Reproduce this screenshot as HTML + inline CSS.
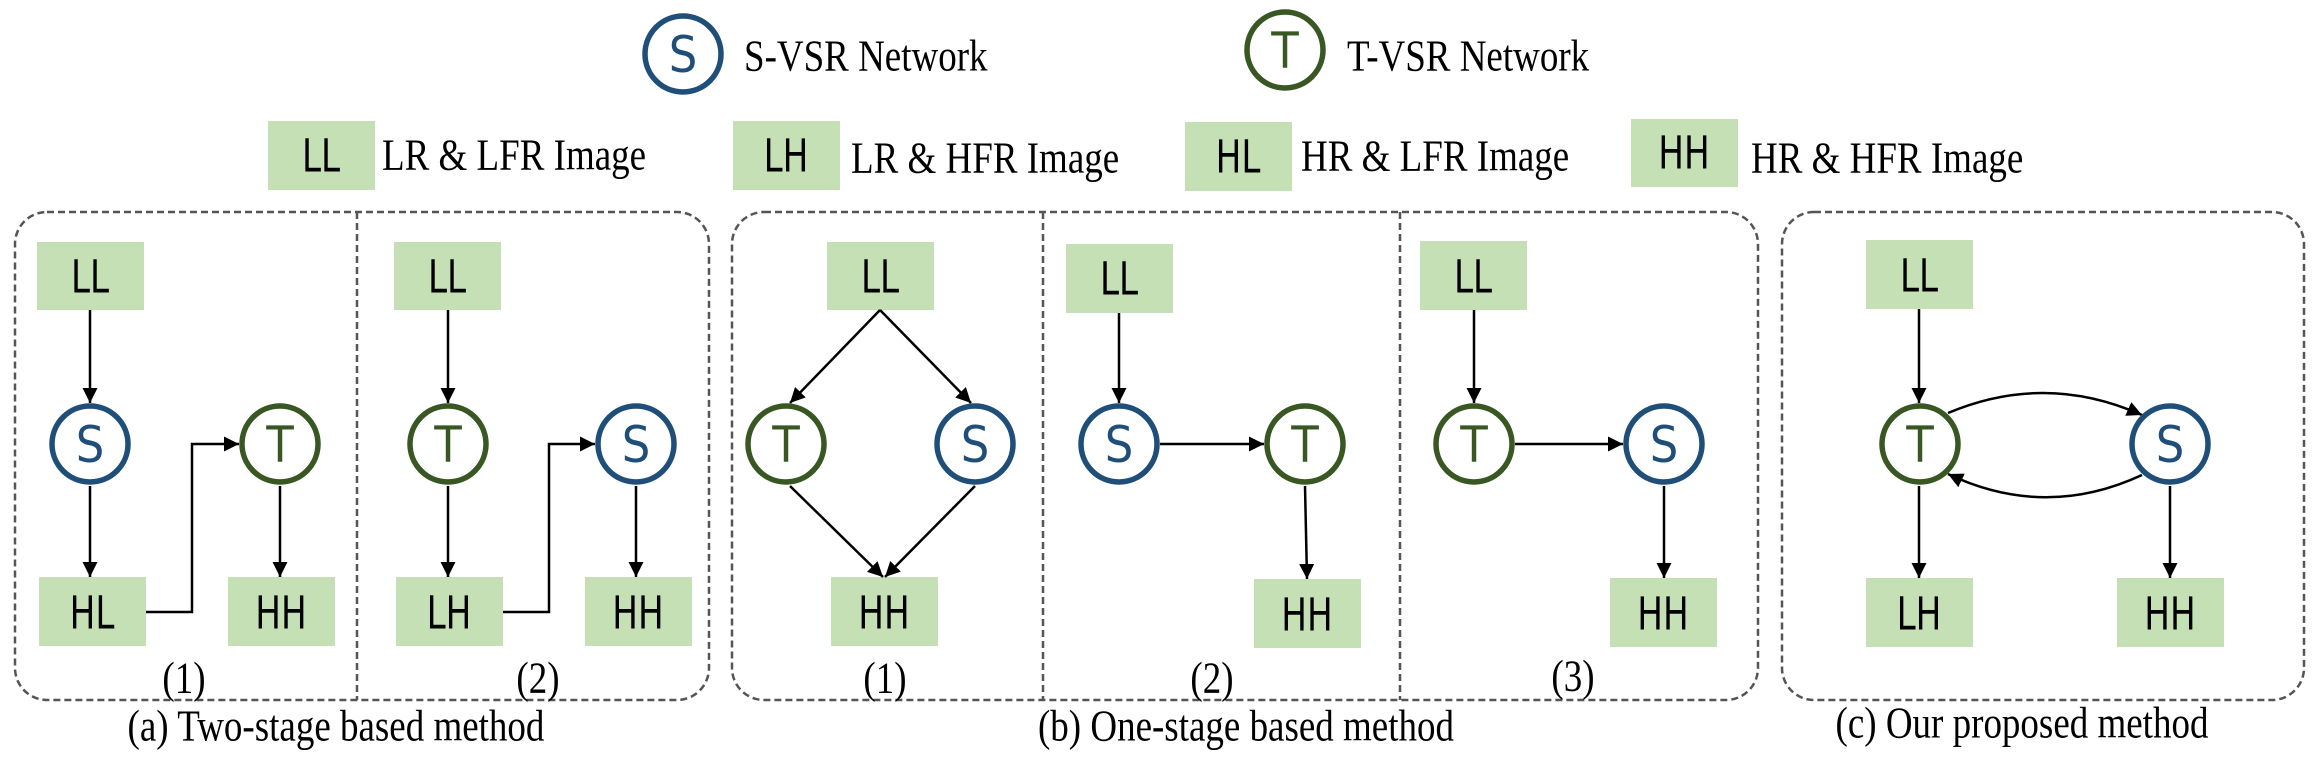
<!DOCTYPE html>
<html><head><meta charset="utf-8"><style>
html,body{margin:0;padding:0;background:#fff}
svg{display:block}
.ser{font-family:"Liberation Serif",serif;font-size:37px;fill:#000}
.bx{font-family:"Liberation Sans Narrow","DejaVu Sans Condensed","Liberation Sans",sans-serif;font-size:38px;fill:#000;text-anchor:middle}
.ser text, text.ser, text.bx{transform-box:fill-box;transform-origin:center;transform:scaleY(1.2)}
.cl{font-family:"Liberation Sans Narrow","DejaVu Sans Condensed","Liberation Sans",sans-serif;font-size:50px;text-anchor:middle}
</style></head><body>
<svg width="2323" height="757" viewBox="0 0 2323 757" xmlns="http://www.w3.org/2000/svg">
<defs>
<marker id="a" viewBox="0 0 12 12" refX="12" refY="6" markerWidth="15" markerHeight="15" markerUnits="userSpaceOnUse" orient="auto"><path d="M0,0 L12,6 L0,12 z" fill="#000"/></marker>
<symbol id="S" overflow="visible"><circle cx="0" cy="0" r="38" fill="#fff" stroke="#1f4e79" stroke-width="5.5"/><text class="cl" x="0" y="18" fill="#1f4e79">S</text></symbol>
<symbol id="T" overflow="visible"><circle cx="0" cy="0" r="38" fill="#fff" stroke="#385723" stroke-width="5.5"/><text class="cl" x="0" y="18" fill="#385723">T</text></symbol>
</defs>

<use href="#S" x="683" y="54"/>
<text class="ser" x="744" y="68">S-VSR Network</text>
<use href="#T" x="1285" y="50"/>
<text class="ser" x="1347" y="68">T-VSR Network</text>

<g fill="#c5e0b4">
<rect x="268" y="121" width="107" height="69"/>
<rect x="733" y="121" width="107" height="69"/>
<rect x="1185" y="122" width="107" height="69"/>
<rect x="1631" y="119" width="107" height="68"/>
</g>
<text class="bx" x="321" y="169">LL</text>
<text class="ser" x="382" y="167">LR &amp; LFR Image</text>
<text class="bx" x="786" y="169">LH</text>
<text class="ser" x="851" y="170">LR &amp; HFR Image</text>
<text class="bx" x="1238" y="170">HL</text>
<text class="ser" x="1301" y="168">HR &amp; LFR Image</text>
<text class="bx" x="1684" y="166">HH</text>
<text class="ser" x="1751" y="170">HR &amp; HFR Image</text>

<g fill="none" stroke="#555" stroke-width="2.5" stroke-dasharray="7,4">
<rect x="15" y="212" width="694" height="488" rx="32"/>
<line x1="357" y1="212" x2="357" y2="700"/>
<rect x="732" y="212" width="1026" height="488" rx="32"/>
<line x1="1043" y1="212" x2="1043" y2="700"/>
<line x1="1400" y1="212" x2="1400" y2="700"/>
<rect x="1782" y="212" width="522" height="488" rx="32"/>
</g>

<g fill="#c5e0b4">
<rect x="37" y="242" width="107" height="68"/>
<rect x="39" y="577" width="107" height="69"/>
<rect x="228" y="577" width="107" height="69"/>
<rect x="394" y="242" width="107" height="68"/>
<rect x="396" y="577" width="107" height="69"/>
<rect x="585" y="577" width="107" height="69"/>
<rect x="827" y="242" width="107" height="68"/>
<rect x="831" y="577" width="107" height="69"/>
<rect x="1066" y="244" width="107" height="69"/>
<rect x="1254" y="579" width="107" height="69"/>
<rect x="1420" y="241" width="107" height="69"/>
<rect x="1610" y="578" width="107" height="69"/>
<rect x="1866" y="240" width="107" height="69"/>
<rect x="1866" y="578" width="107" height="69"/>
<rect x="2117" y="578" width="107" height="69"/>
</g>
<g>
<text class="bx" x="90" y="290">LL</text>
<text class="bx" x="92" y="626">HL</text>
<text class="bx" x="281" y="626">HH</text>
<text class="bx" x="447" y="290">LL</text>
<text class="bx" x="449" y="626">LH</text>
<text class="bx" x="638" y="626">HH</text>
<text class="bx" x="880" y="290">LL</text>
<text class="bx" x="884" y="626">HH</text>
<text class="bx" x="1119" y="292">LL</text>
<text class="bx" x="1307" y="628">HH</text>
<text class="bx" x="1473" y="290">LL</text>
<text class="bx" x="1663" y="627">HH</text>
<text class="bx" x="1919" y="289">LL</text>
<text class="bx" x="1919" y="627">LH</text>
<text class="bx" x="2170" y="627">HH</text>
</g>

<g stroke="#000" stroke-width="2.5" fill="none" marker-end="url(#a)">
<line x1="90" y1="310" x2="90" y2="403"/>
<line x1="90" y1="486" x2="90" y2="577"/>
<polyline points="146,612 192,612 192,444 239,444"/>
<line x1="280" y1="486" x2="280" y2="577"/>
<line x1="448" y1="310" x2="448" y2="403"/>
<line x1="448" y1="486" x2="448" y2="577"/>
<polyline points="503,612 549,612 549,444 595,444"/>
<line x1="636" y1="486" x2="636" y2="577"/>
<line x1="880" y1="310" x2="790" y2="403"/>
<line x1="880" y1="310" x2="971" y2="403"/>
<line x1="790" y1="486" x2="883" y2="577"/>
<line x1="975" y1="486" x2="885" y2="577"/>
<line x1="1119" y1="313" x2="1119" y2="403"/>
<line x1="1160" y1="444" x2="1264" y2="444"/>
<line x1="1305" y1="486" x2="1307" y2="579"/>
<line x1="1474" y1="310" x2="1474" y2="403"/>
<line x1="1515" y1="444" x2="1623" y2="444"/>
<line x1="1664" y1="486" x2="1664" y2="578"/>
<line x1="1919" y1="309" x2="1919" y2="403"/>
<line x1="1919" y1="486" x2="1919" y2="578"/>
<line x1="2170" y1="486" x2="2170" y2="578"/>
<path d="M1948,413 Q2045,372 2142,415"/>
<path d="M2142,475 Q2045,520 1948,474"/>
</g>

<use href="#S" x="90" y="444"/>
<use href="#T" x="280" y="444"/>
<use href="#T" x="448" y="444"/>
<use href="#S" x="636" y="444"/>
<use href="#T" x="786" y="444"/>
<use href="#S" x="975" y="444"/>
<use href="#S" x="1119" y="444"/>
<use href="#T" x="1305" y="444"/>
<use href="#T" x="1474" y="444"/>
<use href="#S" x="1664" y="444"/>
<use href="#T" x="1920" y="444"/>
<use href="#S" x="2170" y="444"/>

<g class="ser" text-anchor="middle">
<text x="184" y="690">(1)</text>
<text x="538" y="690">(2)</text>
<text x="885" y="690">(1)</text>
<text x="1212" y="690">(2)</text>
<text x="1573" y="688">(3)</text>
<text x="336" y="738">(a) Two-stage based method</text>
<text x="1246" y="738">(b) One-stage based method</text>
<text x="2022" y="735">(c) Our proposed method</text>
</g>
</svg>
</body></html>
